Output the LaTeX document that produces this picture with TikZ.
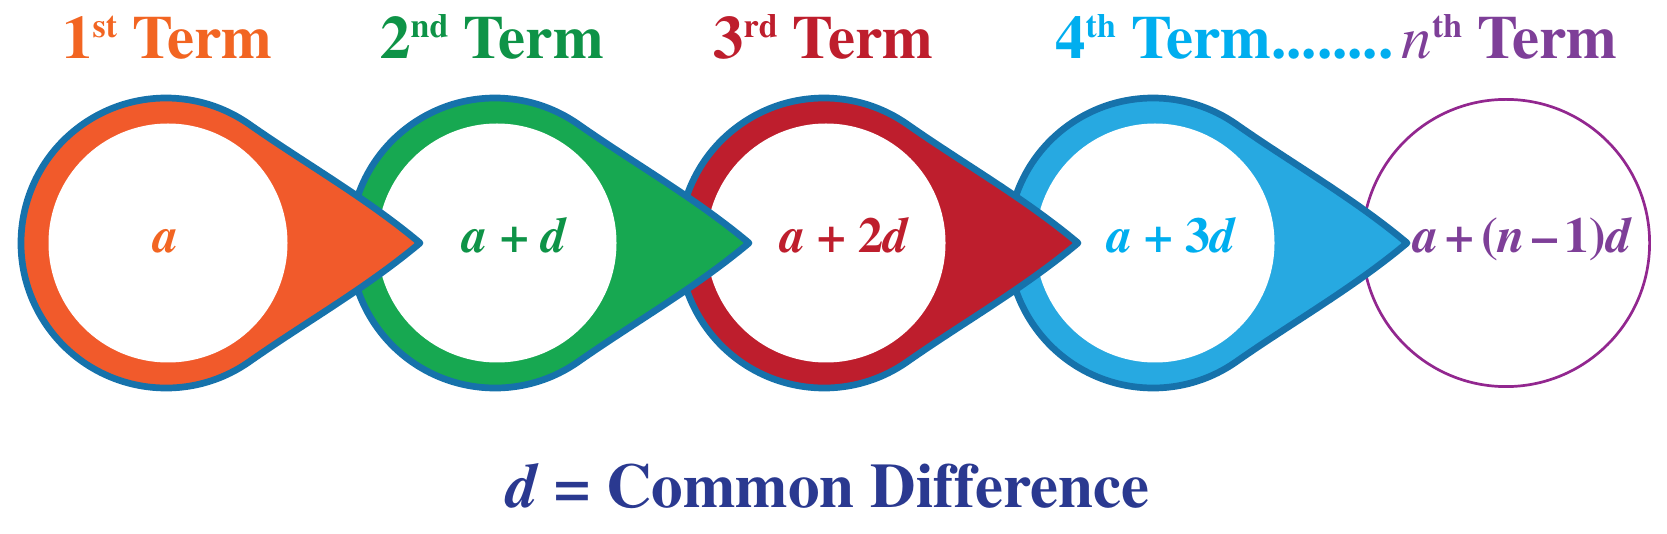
\documentclass[tikz,border=0pt]{standalone}
\usepackage[T1]{fontenc}
\usepackage{times}
\usetikzlibrary{calc,positioning}
\definecolor{color_outline}{HTML}{1672AB}
\definecolor{color_fill_orange}{HTML}{F15A2B}
\definecolor{color_text_orange}{HTML}{F26522}
\definecolor{color_fill_green}{HTML}{17A851}
\definecolor{color_text_green}{HTML}{0E9347}
\definecolor{color_red}{HTML}{BE1E2D}
\definecolor{color_fill_blue}{HTML}{27A9E1}
\definecolor{color_text_blue}{HTML}{00AEEF}
\definecolor{color_purple}{HTML}{7E3F98}
\definecolor{color_purple_line}{HTML}{92278F}
\definecolor{color_navy}{HTML}{2A3990}
\newcommand{\ordsup}[1]{\raisebox{21pt}{\fontsize{34}{34}\selectfont #1}}

\begin{document}
\begin{tikzpicture}[x=1pt,y=1pt,
		shell/.style={line width=6.7pt,draw=color_outline,line join=round},
		term/.style={anchor=base west,inner sep=0pt,font=\bfseries\fontsize{61}{61}\selectfont},
		value/.style={anchor=base,inner sep=0pt,font=\bfseries\fontsize{50}{50}\selectfont}]
				\useasboundingbox (0,0) rectangle (1667,533);
				% Points
				\coordinate (c1) at (166,290);
				\coordinate (c2) at (495,290);
				\coordinate (c3) at (824,290);
				\coordinate (c4) at (1153,290);
				\coordinate (c5) at (1506,290);

				% Last circle
				\draw[line width=2.7pt,color_purple_line] (c5) circle[radius=143.6pt];

				% Drops, right to left so each tip lies over the next ring
				\foreach \i/\col in {4/color_fill_blue,3/color_red,2/color_fill_green,1/color_fill_orange}{
					\draw[shell,fill=\col]
						($(c\i)+(55:145)$) .. controls +(-35:70) and +(140:70) ..
						($(c\i)+(254,0)$) .. controls +(220:70) and +(35:70) ..
						($(c\i)+(305:145)$) arc[start angle=305,end angle=55,radius=145pt]
						-- cycle;
					\fill[white] ($(c\i)+(2,0)$) circle[radius=119.5pt];
				}

				% Values
				\node[value,text=color_text_orange] (v1) at (166,280) {\textit{a}};
				\node[value,text=color_text_green] (v2) at (515,280) {\textit{a} + \textit{d}};
				\node[value,text=color_red] (v3) at (845,280) {\textit{a} + 2\textit{d}};
				\node[value,text=color_text_blue] (v4) at (1172,280) {\textit{a} + 3\textit{d}};
				\node[value,text=color_purple] (v5) at (1523,280)
					{\textit{a}\kern7pt+\kern7pt(\textit{n}\kern7pt\textendash\kern7pt1)\textit{d}};

				% Terms
				\node[term,text=color_text_orange] (t1) at (62,474) {1\ordsup{st} Term};
				\node[term,text=color_text_green] (t2) at (380,474) {2\ordsup{nd} Term};
				\node[term,text=color_red] (t3) at (713,474) {3\ordsup{rd} Term};
				\node[term,text=color_text_blue] (t4) at (1055,474) {4\ordsup{th} Term........};
				\node[term,text=color_purple] (t5) at ([xshift=8pt]t4.base east)
					{{\mdseries\itshape n}\ordsup{th} Term};

				% Caption
				\node[anchor=base,inner sep=0pt,text=color_navy,
					font=\bfseries\fontsize{63}{63}\selectfont] (cd) at (828,26)
					{\textit{d} = Common Difference};
			\end{tikzpicture}
\end{document}
